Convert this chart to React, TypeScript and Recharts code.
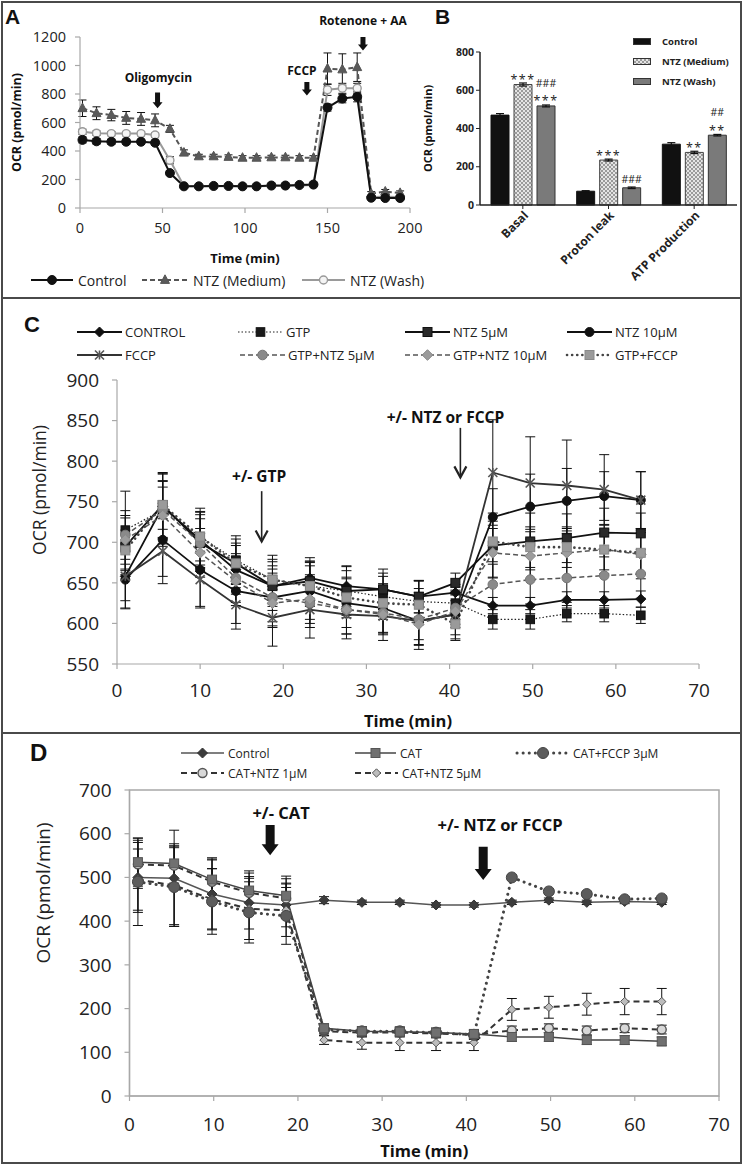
import React from 'react';
import {
  Bar,
  BarChart,
  ErrorBar,
  LabelList,
  Line,
  LineChart,
  ReferenceArea,
  ReferenceDot,
  ReferenceLine,
  XAxis,
  YAxis,
} from 'recharts';

// ---------- A: OCR time course ----------
const timeA = [1.5, 10, 19, 28, 37, 45.5, 54.5, 63, 72, 81, 90, 98.5, 107, 116, 124.5, 133, 141.5, 150, 159, 168, 176.5, 185, 194];
const controlA = [478, 468, 465, 465, 465, 458, 245, 152, 152, 155, 155, 152, 152, 158, 158, 162, 165, 705, 768, 780, 72, 70, 70];
const controlAErr = [22, 20, 18, 18, 18, 18, 15, 10, 10, 10, 10, 10, 10, 10, 10, 10, 10, 25, 30, 35, 12, 10, 10];
const mediumA = [700, 665, 652, 632, 625, 615, 555, 388, 362, 362, 358, 352, 352, 355, 355, 352, 352, 978, 972, 988, 100, 115, 105];
const mediumAErr = [58, 45, 40, 45, 45, 45, 25, 20, 15, 15, 15, 15, 15, 15, 15, 15, 15, 110, 110, 100, 15, 15, 15];
const washA = [535, 525, 522, 522, 522, 512, 335, 155, 152, 152, 152, 152, 152, 155, 155, 158, 162, 830, 840, 840, 75, 80, 75];
const washAErr = [18, 15, 15, 15, 15, 15, 25, 10, 10, 10, 10, 10, 10, 10, 10, 10, 10, 40, 35, 35, 10, 10, 10];

// injections: arrow from/to (OCR units), text position
const eventsA = [
  { text: 'Oligomycin', t: 47, from: 810, to: 700, textT: 47.5, textY: 919 },
  { text: 'FCCP', t: 137.5, from: 885, to: 790, textT: 134.5, textY: 968 },
  { text: 'Rotenone + AA', t: 171.5, from: 1200, to: 1105, textT: 171.5, textY: 1319 },
];

// ---------- B: respiration parameters ----------
const categoriesB = ['Basal', 'Proton leak', 'ATP Production'];
const controlB = [470, 72, 318];
const controlBErr = [8, 3, 8];
const mediumB = [630, 235, 275];
const mediumBErr = [8, 5, 6];
const washB = [518, 90, 365];
const washBErr = [5, 4, 4];
const mediumSig = ['***', '***', '**'];
const washSig = ['###|***', '###', '##|**'];

// ---------- C: GTP / NTZ / FCCP ----------
const timeC = [1, 5.5, 10, 14.3, 18.7, 23.2, 27.6, 32, 36.3, 40.7, 45.2, 49.7, 54.1, 58.6, 63];
const controlC = [658, 744, 703, 666, 646, 656, 646, 642, 633, 638, 622, 622, 629, 629, 630];
const controlCErr = [30, 40, 35, 30, 25, 25, 25, 20, 20, 10, 10, 10, 10, 10, 10];
const gtpC = [715, 740, 707, 678, 654, 646, 640, 633, 627, 625, 605, 605, 612, 612, 610];
const gtpCErr = [48, 45, 35, 30, 30, 30, 30, 25, 25, 20, 12, 12, 10, 10, 10];
const ntz5C = [695, 746, 699, 674, 646, 652, 640, 642, 633, 650, 696, 701, 705, 712, 711];
const ntz5CErr = [35, 40, 35, 30, 30, 25, 25, 25, 20, 12, 40, 35, 30, 30, 25];
const ntz10C = [654, 703, 666, 640, 632, 640, 625, 619, 603, 611, 731, 744, 751, 757, 752];
const ntz10CErr = [35, 45, 45, 40, 35, 35, 30, 30, 30, 25, 35, 40, 40, 30, 35];
const fccpC = [658, 689, 654, 623, 607, 617, 611, 609, 603, 611, 786, 773, 770, 765, 752];
const fccpCErr = [40, 40, 35, 30, 35, 35, 30, 30, 35, 30, 65, 57, 56, 43, 35];
const gtpNtz5C = [709, 740, 699, 656, 632, 625, 617, 613, 605, 619, 648, 654, 656, 659, 661];
const gtpNtz5CErr = [30, 35, 30, 30, 30, 30, 30, 25, 25, 20, 25, 30, 30, 30, 30];
const gtpNtz10C = [703, 733, 687, 652, 625, 630, 617, 611, 599, 615, 687, 683, 687, 691, 685];
const gtpNtz10CErr = [30, 35, 30, 30, 30, 30, 30, 25, 25, 20, 30, 30, 30, 30, 30];
const gtpFccpC = [690, 746, 707, 674, 654, 646, 632, 625, 623, 599, 701, 694, 694, 691, 687];
const gtpFccpCErr = [25, 30, 30, 25, 25, 25, 25, 20, 20, 20, 25, 25, 25, 25, 25];

// ---------- D: CAT ----------
const timeD = [1, 5.3, 9.8, 14.2, 18.6, 23.1, 27.6, 32.1, 36.4, 40.9, 45.4, 49.8, 54.3, 58.8, 63.2];
const controlD = [500, 498, 462, 442, 437, 448, 443, 443, 437, 437, 443, 448, 443, 445, 443];
const controlDErr = [80, 110, 80, 60, 50, 8, 5, 5, 5, 5, 5, 5, 5, 5, 5];
const catD = [535, 532, 495, 470, 458, 155, 148, 147, 145, 142, 135, 135, 128, 128, 125];
const catDErr = [55, 45, 50, 45, 45, 10, 10, 10, 10, 10, 10, 10, 10, 10, 10];
const catFccpD = [490, 478, 445, 420, 412, 152, 148, 148, 145, 140, 500, 468, 462, 450, 452];
const catFccpDErr = [100, 90, 75, 70, 65, 10, 10, 10, 10, 10, 5, 5, 5, 5, 5];
const catNtz1D = [530, 527, 490, 465, 452, 148, 145, 145, 143, 140, 150, 155, 150, 155, 152];
const catNtz1DErr = [55, 45, 50, 45, 45, 10, 10, 10, 10, 10, 10, 10, 10, 10, 10];
const catNtz5D = [495, 482, 450, 428, 425, 128, 122, 122, 122, 122, 198, 203, 210, 216, 216];
const catNtz5DErr = [70, 90, 70, 70, 60, 10, 15, 18, 18, 18, 25, 25, 25, 30, 30];

type Shape = 'circle' | 'ring' | 'triangle' | 'diamond' | 'square' | 'star';
interface Sty {
  stroke: string;
  sw: number;
  dash?: string;
  cap?: 'round' | 'butt';
  shape: Shape;
  fill: string;
  edge: string;
  size: number;
}

const Marker = ({ cx, cy, s }: { cx: number; cy: number; s: Sty }) => {
  if (cx == null || cy == null || isNaN(cx) || isNaN(cy)) return null;
  const r = s.size;
  switch (s.shape) {
    case 'circle':
      return <circle cx={cx} cy={cy} r={r} fill={s.fill} stroke={s.edge} strokeWidth={1} />;
    case 'ring':
      return <circle cx={cx} cy={cy} r={r} fill={s.fill} stroke={s.edge} strokeWidth={1.4} />;
    case 'triangle':
      return (
        <polygon
          points={`${cx},${cy - r * 1.15} ${cx + r},${cy + r * 0.75} ${cx - r},${cy + r * 0.75}`}
          fill={s.fill}
          stroke={s.edge}
        />
      );
    case 'diamond':
      return (
        <polygon
          points={`${cx},${cy - r} ${cx + r},${cy} ${cx},${cy + r} ${cx - r},${cy}`}
          fill={s.fill}
          stroke={s.edge}
        />
      );
    case 'square':
      return <rect x={cx - r} y={cy - r} width={2 * r} height={2 * r} fill={s.fill} stroke={s.edge} />;
    case 'star':
      return (
        <g stroke={s.edge} strokeWidth={1.6}>
          <line x1={cx - r} y1={cy - r} x2={cx + r} y2={cy + r} />
          <line x1={cx - r} y1={cy + r} x2={cx + r} y2={cy - r} />
          <line x1={cx} y1={cy - r} x2={cx} y2={cy + r} />
        </g>
      );
  }
  return null;
};

// styles
const stA: Record<string, Sty> = {
  ctrl: { stroke: '#111', sw: 2, shape: 'circle', fill: '#111', edge: '#111', size: 4.5 },
  med: { stroke: '#555', sw: 2, dash: '5 3', shape: 'triangle', fill: '#5a5a5a', edge: '#555', size: 4.5 },
  wash: { stroke: '#9a9a9a', sw: 2, shape: 'ring', fill: '#f4f4f4', edge: '#999', size: 4 },
};

const stC: Record<string, Sty> = {
  control: { stroke: '#111', sw: 1.8, shape: 'diamond', fill: '#111', edge: '#111', size: 5 },
  gtp: { stroke: '#222', sw: 1.2, dash: '1.5 2', shape: 'square', fill: '#1a1a1a', edge: '#111', size: 4.3 },
  ntz5: { stroke: '#111', sw: 1.8, shape: 'square', fill: '#2a2a2a', edge: '#111', size: 4.5 },
  ntz10: { stroke: '#111', sw: 1.8, shape: 'circle', fill: '#111', edge: '#111', size: 4.5 },
  fccp: { stroke: '#333', sw: 1.8, shape: 'star', fill: '#555', edge: '#555', size: 4.5 },
  gtpNtz5: { stroke: '#555', sw: 1.5, dash: '5 3', shape: 'circle', fill: '#8a8a8a', edge: '#777', size: 4.8 },
  gtpNtz10: { stroke: '#555', sw: 1.5, dash: '5 3', shape: 'diamond', fill: '#9c9c9c', edge: '#888', size: 5.3 },
  gtpFccp: { stroke: '#444', sw: 2.6, dash: '0.1 5', cap: 'round', shape: 'square', fill: '#9a9a9a', edge: '#888', size: 4.5 },
};

const stD: Record<string, Sty> = {
  control: { stroke: '#555', sw: 1.5, shape: 'diamond', fill: '#3c3c3c', edge: '#333', size: 5 },
  cat: { stroke: '#444', sw: 1.5, shape: 'square', fill: '#707070', edge: '#555', size: 4.5 },
  catFccp: { stroke: '#444', sw: 3, dash: '0.1 6', cap: 'round', shape: 'circle', fill: '#5c5c5c', edge: '#444', size: 5.5 },
  catNtz1: { stroke: '#333', sw: 2, dash: '6 4', shape: 'ring', fill: '#d8d8d8', edge: '#555', size: 4.5 },
  catNtz5: { stroke: '#333', sw: 2, dash: '6 4', shape: 'diamond', fill: '#bdbdbd', edge: '#555', size: 4.2 },
};

const seriesA = [
  { key: 'ctrl', name: 'Control', values: controlA, errs: controlAErr },
  { key: 'med', name: 'NTZ (Medium)', values: mediumA, errs: mediumAErr },
  { key: 'wash', name: 'NTZ (Wash)', values: washA, errs: washAErr },
];

const seriesC = [
  { key: 'control', name: 'CONTROL', values: controlC, errs: controlCErr },
  { key: 'gtp', name: 'GTP', values: gtpC, errs: gtpCErr },
  { key: 'ntz5', name: 'NTZ 5µM', values: ntz5C, errs: ntz5CErr },
  { key: 'ntz10', name: 'NTZ 10µM', values: ntz10C, errs: ntz10CErr },
  { key: 'fccp', name: 'FCCP', values: fccpC, errs: fccpCErr },
  { key: 'gtpNtz5', name: 'GTP+NTZ 5µM', values: gtpNtz5C, errs: gtpNtz5CErr },
  { key: 'gtpNtz10', name: 'GTP+NTZ 10µM', values: gtpNtz10C, errs: gtpNtz10CErr },
  { key: 'gtpFccp', name: 'GTP+FCCP', values: gtpFccpC, errs: gtpFccpCErr },
];

const seriesD = [
  { key: 'control', name: 'Control', values: controlD, errs: controlDErr },
  { key: 'cat', name: 'CAT', values: catD, errs: catDErr },
  { key: 'catFccp', name: 'CAT+FCCP 3µM', values: catFccpD, errs: catFccpDErr },
  { key: 'catNtz1', name: 'CAT+NTZ 1µM', values: catNtz1D, errs: catNtz1DErr },
  { key: 'catNtz5', name: 'CAT+NTZ 5µM', values: catNtz5D, errs: catNtz5DErr },
];

type Series = { key: string; name: string; values: number[]; errs: number[] };

const buildRows = (times: number[], series: Series[]) =>
  times.map((t, i) => {
    const row: Record<string, number> = { t };
    series.forEach((s) => {
      row[s.key] = s.values[i];
      row[s.key + 'Err'] = s.errs[i];
    });
    return row;
  });

const rowsA = buildRows(timeA, seriesA);
const rowsC = buildRows(timeC, seriesC);
const rowsD = buildRows(timeD, seriesD);

const rowsB = categoriesB.map((cat, i) => ({
  cat,
  ctrl: controlB[i],
  ctrlErr: controlBErr[i],
  med: mediumB[i],
  medErr: mediumBErr[i],
  wash: washB[i],
  washErr: washBErr[i],
  medSig: mediumSig[i],
  washSig: washSig[i],
}));

// block arrow pointing down, drawn from a ReferenceLine segment
const blockArrow = (shaft: number, head: number, headLen: number) => (p: any) => {
  const x = p.x1;
  const top = Math.min(p.y1, p.y2);
  const tip = Math.max(p.y1, p.y2);
  const hb = tip - headLen;
  const pts = [
    [x - shaft / 2, top],
    [x + shaft / 2, top],
    [x + shaft / 2, hb],
    [x + head / 2, hb],
    [x, tip],
    [x - head / 2, hb],
    [x - shaft / 2, hb],
  ]
    .map((q) => q.join(','))
    .join(' ');
  return <polygon points={pts} fill="#111" />;
};

const lineArrow = (p: any) => {
  const x = p.x1;
  const top = Math.min(p.y1, p.y2);
  const tip = Math.max(p.y1, p.y2);
  return (
    <g stroke="#222" strokeWidth={1.6} fill="none">
      <line x1={x} y1={top} x2={x} y2={tip} />
      <polyline points={`${x - 6},${tip - 11} ${x},${tip} ${x + 6},${tip - 11}`} strokeWidth={2.2} />
    </g>
  );
};

const textShape = (text: string, size: number) => (p: any) => (
  <text
    x={p.cx}
    y={p.cy}
    textAnchor="middle"
    dominantBaseline="central"
    fontSize={size}
    fontWeight={700}
    fill="#111">
    {text}
  </text>
);

const renderSeries = (series: Series[], styles: Record<string, Sty>, cap: number, order: string[]) =>
  order.map((k) => {
    const s = series.find((q) => q.key === k)!;
    const st = styles[k];
    return (
      <Line
        key={k}
        type="linear"
        dataKey={k}
        name={s.name}
        stroke={st.stroke}
        strokeWidth={st.sw}
        strokeDasharray={st.dash}
        strokeLinecap={st.cap}
        dot={(p: any) => <Marker key={`${k}-${p.index}`} cx={p.cx} cy={p.cy} s={st} />}
        activeDot={false}
        isAnimationActive={false}>
        <ErrorBar
          dataKey={k + 'Err'}
          width={cap}
          stroke="#111"
          strokeWidth={1}
          direction="y"
          isAnimationActive={false}
        />
      </Line>
    );
  });

const KeyItem = ({
  left,
  top,
  s,
  w,
  label,
  fs,
  gap,
}: {
  left: number;
  top: number;
  s: Sty;
  w: number;
  label: string;
  fs: number;
  gap: number;
}) => (
  <div
    style={{
      position: 'absolute',
      left,
      top: top - 9,
      height: 18,
      display: 'flex',
      alignItems: 'center',
      whiteSpace: 'nowrap',
      fontSize: fs,
      color: '#222',
    }}>
    <svg width={w} height={18} style={{ overflow: 'visible' }}>
      <line
        x1={0}
        y1={9}
        x2={w}
        y2={9}
        stroke={s.stroke}
        strokeWidth={s.sw}
        strokeDasharray={s.dash}
        strokeLinecap={s.cap}
      />
      <Marker cx={w / 2} cy={9} s={s} />
    </svg>
    <span style={{ marginLeft: gap }}>{label}</span>
  </div>
);

// significance marks stacked above a bar ("###|***" -> ### over ***)
const sigLabel = (p: any) => {
  const lines = String(p.value || '')
    .split('|')
    .filter(Boolean);
  const cx = p.x + p.width / 2;
  return (
    <g>
      {lines.map((ln, i) => {
        const cy = p.y - 9 - (lines.length - 1 - i) * 14;
        const star = ln.includes('*');
        return (
          <text
            key={i}
            x={cx}
            y={star ? cy + 4 : cy}
            textAnchor="middle"
            dominantBaseline="central"
            fontSize={star ? 12.5 : 10.5}
            letterSpacing={star ? 1.5 : 0}
            fill="#222">
            {ln}
          </text>
        );
      })}
    </g>
  );
};

const rotTick = (p: any) => (
  <text
    x={p.x + 3}
    y={p.y + 2}
    textAnchor="end"
    dominantBaseline="central"
    transform={`rotate(-45 ${p.x + 3} ${p.y + 2})`}
    fontSize={12}
    fontWeight={700}
    fill="#222">
    {p.payload.value}
  </text>
);

const panelLetter = (ch: string, left: number, top: number, size: number) => (
  <div
    style={{
      position: 'absolute',
      left,
      top,
      fontSize: size,
      fontWeight: 700,
      lineHeight: 1,
      fontFamily: "'Liberation Sans', Arial, sans-serif",
      color: '#111',
    }}>
    {ch}
  </div>
);

const legendA = [
  { key: 'ctrl', left: 31, top: 280, w: 42 },
  { key: 'med', left: 142, top: 280, w: 46 },
  { key: 'wash', left: 302, top: 280, w: 43 },
];
const legendC = [
  { key: 'control', left: 77, top: 332 },
  { key: 'gtp', left: 238, top: 332 },
  { key: 'ntz5', left: 405, top: 332 },
  { key: 'ntz10', left: 567, top: 332 },
  { key: 'fccp', left: 77, top: 355 },
  { key: 'gtpNtz5', left: 240, top: 355 },
  { key: 'gtpNtz10', left: 405, top: 355 },
  { key: 'gtpFccp', left: 567, top: 355 },
];
const legendD = [
  { key: 'control', left: 181, top: 753, w: 43 },
  { key: 'cat', left: 355, top: 753, w: 41 },
  { key: 'catFccp', left: 517, top: 753, w: 52 },
  { key: 'catNtz1', left: 181, top: 773, w: 43 },
  { key: 'catNtz5', left: 355, top: 773, w: 43 },
];

const axisGray = { stroke: '#a8a8a8', strokeWidth: 1.2 };

export default function App() {
  return (
    <div
      style={{
        position: 'relative',
        width: 745,
        height: 1168,
        background: '#fff',
        fontFamily: "'Open Sans', sans-serif",
        overflow: 'hidden',
      }}>
      <style>{'body{margin:0}'}</style>

      {/* frame */}
      <div
        style={{
          position: 'absolute',
          left: 1,
          top: 1,
          width: 741,
          height: 1163,
          border: '2px solid #4a4a4a',
          boxSizing: 'border-box',
        }}
      />
      <div style={{ position: 'absolute', left: 1, top: 297, width: 741, height: 2, background: '#4a4a4a' }} />
      <div style={{ position: 'absolute', left: 1, top: 732, width: 741, height: 2, background: '#4a4a4a' }} />

      {/* ---------- A ---------- */}
      <div style={{ position: 'absolute', left: 0, top: 0 }}>
        <LineChart width={430} height={297} data={rowsA} margin={{ top: 37, right: 20, left: 0, bottom: 32 }}>
          <XAxis
            dataKey="t"
            type="number"
            domain={[0, 200]}
            ticks={[0, 50, 100, 150, 200]}
            height={57}
            tickSize={5}
            tickMargin={10}
            axisLine={axisGray}
            tickLine={axisGray}
            tick={{ fontSize: 14.5, fill: '#222' }}
            label={{ value: 'Time (min)', position: 'insideBottom', offset: 2, style: { fontSize: 13, fontWeight: 700, fill: '#111' } }}
          />
          <YAxis
            type="number"
            domain={[0, 1200]}
            ticks={[0, 200, 400, 600, 800, 1000, 1200]}
            width={80}
            interval={0}
            tickSize={5}
            tickMargin={9}
            axisLine={axisGray}
            tickLine={axisGray}
            tick={{ fontSize: 14.5, fill: '#222' }}
            label={{
              value: 'OCR (pmol/min)',
              angle: -90,
              position: 'insideLeft',
              offset: 17,
              style: { textAnchor: 'middle', fontSize: 12.5, fontWeight: 700, fill: '#111' },
            }}
          />
          {renderSeries(seriesA, stA, 4, ['wash', 'med', 'ctrl'])}
          {eventsA.map((e) => (
            <ReferenceLine
              key={e.text + 'a'}
              segment={[
                { x: e.t, y: e.from },
                { x: e.t, y: e.to },
              ]}
              ifOverflow="visible"
              shape={blockArrow(5, 10, 6)}
            />
          ))}
          {eventsA.map((e) => (
            <ReferenceDot
              key={e.text}
              x={e.textT}
              y={e.textY}
              r={0}
              ifOverflow="visible"
              shape={textShape(e.text, 12)}
            />
          ))}
        </LineChart>
      </div>
      {legendA.map((l) => {
        const s = seriesA.find((q) => q.key === l.key)!;
        return <KeyItem key={l.key} left={l.left} top={l.top} s={stA[l.key]} w={l.w} label={s.name} fs={14} gap={5} />;
      })}
      {panelLetter('A', 5, 6, 21)}

      {/* ---------- B ---------- */}
      <div style={{ position: 'absolute', left: 415, top: 0 }}>
        <BarChart
          width={330}
          height={297}
          data={rowsB}
          margin={{ top: 52, right: 8, left: 0, bottom: 0 }}
          barSize={18}
          barGap={5}>
          <defs>
            <pattern id="checker" width="4" height="4" patternUnits="userSpaceOnUse">
              <rect width="4" height="4" fill="#e4e4e4" />
              <rect width="2" height="2" fill="#9a9a9a" />
              <rect x="2" y="2" width="2" height="2" fill="#9a9a9a" />
            </pattern>
          </defs>
          <XAxis
            dataKey="cat"
            height={92}
            interval={0}
            tickSize={4}
            axisLine={{ stroke: '#222', strokeWidth: 1.5 }}
            tickLine={{ stroke: '#222' }}
            tick={rotTick}
          />
          <YAxis
            domain={[0, 800]}
            ticks={[0, 200, 400, 600, 800]}
            width={65}
            interval={0}
            tickSize={4}
            tickMargin={2}
            axisLine={{ stroke: '#222', strokeWidth: 1.5 }}
            tickLine={{ stroke: '#222' }}
            tick={{ fontSize: 10.5, fontWeight: 700, fill: '#222' }}
            label={{
              value: 'OCR (pmol/min)',
              angle: -90,
              position: 'insideLeft',
              offset: 13,
              style: { textAnchor: 'middle', fontSize: 11, fontWeight: 700, fill: '#111' },
            }}
          />
          <Bar dataKey="ctrl" fill="#111" stroke="#111" isAnimationActive={false}>
            <ErrorBar dataKey="ctrlErr" width={4} stroke="#111" strokeWidth={1.2} direction="y" isAnimationActive={false} />
          </Bar>
          <Bar dataKey="med" fill="url(#checker)" stroke="#444" isAnimationActive={false}>
            <ErrorBar dataKey="medErr" width={4} stroke="#111" strokeWidth={1.2} direction="y" isAnimationActive={false} />
            <LabelList dataKey="medSig" content={sigLabel} />
          </Bar>
          <Bar dataKey="wash" fill="#7a7a7a" stroke="#333" isAnimationActive={false}>
            <ErrorBar dataKey="washErr" width={4} stroke="#111" strokeWidth={1.2} direction="y" isAnimationActive={false} />
            <LabelList dataKey="washSig" content={sigLabel} />
          </Bar>
        </BarChart>
      </div>
      {[
        { label: 'Control', top: 41, bg: '#111' },
        { label: 'NTZ (Medium)', top: 61, bg: 'repeating-conic-gradient(#9a9a9a 0 25%, #e4e4e4 0 50%) 0 0 / 4px 4px' },
        { label: 'NTZ (Wash)', top: 81, bg: '#7a7a7a' },
      ].map((l) => (
        <div
          key={l.label}
          style={{
            position: 'absolute',
            left: 633,
            top: l.top - 8,
            height: 16,
            display: 'flex',
            alignItems: 'center',
            fontSize: 9.5,
            fontWeight: 700,
            color: '#222',
            whiteSpace: 'nowrap',
          }}>
          <div style={{ width: 18, height: 7, background: l.bg, border: '1px solid #333', boxSizing: 'border-box' }} />
          <span style={{ marginLeft: 11 }}>{l.label}</span>
        </div>
      ))}
      {panelLetter('B', 435, 6, 21)}

      {/* ---------- C ---------- */}
      <div style={{ position: 'absolute', left: 0, top: 299 }}>
        <LineChart width={745} height={433} data={rowsC} margin={{ top: 81, right: 46, left: 0, bottom: 0 }}>
          <XAxis
            dataKey="t"
            type="number"
            domain={[0, 70]}
            ticks={[0, 10, 20, 30, 40, 50, 60, 70]}
            height={68}
            tickSize={5}
            tickMargin={15}
            axisLine={axisGray}
            tickLine={axisGray}
            tick={{ fontSize: 19, fill: '#222' }}
            label={{ value: 'Time (min)', position: 'insideBottom', offset: 5, style: { fontSize: 16.5, fontWeight: 700, fill: '#111' } }}
          />
          <YAxis
            type="number"
            domain={[550, 900]}
            ticks={[550, 600, 650, 700, 750, 800, 850, 900]}
            width={117}
            interval={0}
            tickSize={5}
            tickMargin={13}
            axisLine={axisGray}
            tickLine={axisGray}
            tick={{ fontSize: 19, fill: '#222' }}
            label={{
              value: 'OCR (pmol/min)',
              angle: -90,
              position: 'insideLeft',
              offset: 40,
              dy: -32,
              style: { textAnchor: 'middle', fontSize: 17.5, fill: '#222' },
            }}
          />
          {renderSeries(seriesC, stC, 5, ['gtp', 'control', 'ntz5', 'ntz10', 'fccp', 'gtpNtz5', 'gtpNtz10', 'gtpFccp'])}
          <ReferenceLine
            segment={[
              { x: 17.4, y: 763 },
              { x: 17.4, y: 701 },
            ]}
            ifOverflow="visible"
            shape={lineArrow}
          />
          <ReferenceDot x={17.1} y={782} r={0} ifOverflow="visible" shape={textShape('+/-  GTP', 15.5)} />
          <ReferenceLine
            segment={[
              { x: 41.3, y: 841 },
              { x: 41.3, y: 780 },
            ]}
            ifOverflow="visible"
            shape={lineArrow}
          />
          <ReferenceDot x={39.5} y={854} r={0} ifOverflow="visible" shape={textShape('+/-  NTZ or FCCP', 15.5)} />
        </LineChart>
      </div>
      {legendC.map((l) => {
        const s = seriesC.find((q) => q.key === l.key)!;
        return <KeyItem key={l.key} left={l.left} top={l.top} s={stC[l.key]} w={45} label={s.name} fs={13} gap={3} />;
      })}
      {panelLetter('C', 24, 314, 22)}

      {/* ---------- D ---------- */}
      <div style={{ position: 'absolute', left: 0, top: 734 }}>
        <LineChart width={745} height={430} data={rowsD} margin={{ top: 56, right: 26, left: 0, bottom: 2 }}>
          <XAxis
            dataKey="t"
            type="number"
            domain={[0, 70]}
            ticks={[0, 10, 20, 30, 40, 50, 60, 70]}
            height={66}
            tickSize={5}
            tickMargin={17}
            axisLine={axisGray}
            tickLine={axisGray}
            tick={{ fontSize: 19, fill: '#222' }}
            label={{ value: 'Time (min)', position: 'insideBottom', offset: 5, style: { fontSize: 16.5, fontWeight: 700, fill: '#111' } }}
          />
          <YAxis
            type="number"
            domain={[0, 700]}
            ticks={[0, 100, 200, 300, 400, 500, 600, 700]}
            width={129.5}
            interval={0}
            tickSize={5}
            tickMargin={13}
            axisLine={axisGray}
            tickLine={axisGray}
            tick={{ fontSize: 19, fill: '#222' }}
            label={{
              value: 'OCR (pmol/min)',
              angle: -90,
              position: 'insideLeft',
              offset: 43,
              dy: -50,
              style: { textAnchor: 'middle', fontSize: 19, fill: '#222' },
            }}
          />
          <ReferenceArea x1={0} x2={70} y1={0} y2={700} fill="none" stroke="#a8a8a8" strokeWidth={1.5} ifOverflow="visible" />
          {renderSeries(seriesD, stD, 5, ['control', 'catNtz5', 'catNtz1', 'catFccp', 'cat'])}
          <ReferenceLine
            segment={[
              { x: 16.7, y: 620 },
              { x: 16.7, y: 551 },
            ]}
            ifOverflow="visible"
            shape={blockArrow(9, 17, 11)}
          />
          <ReferenceDot x={18} y={648} r={0} ifOverflow="visible" shape={textShape('+/- CAT', 16.5)} />
          <ReferenceLine
            segment={[
              { x: 42, y: 570 },
              { x: 42, y: 494 },
            ]}
            ifOverflow="visible"
            shape={blockArrow(9, 17, 11)}
          />
          <ReferenceDot x={44} y={620} r={0} ifOverflow="visible" shape={textShape('+/- NTZ or FCCP', 16.5)} />
        </LineChart>
      </div>
      {legendD.map((l) => {
        const s = seriesD.find((q) => q.key === l.key)!;
        return <KeyItem key={l.key} left={l.left} top={l.top} s={stD[l.key]} w={l.w} label={s.name} fs={12} gap={4} />;
      })}
      {panelLetter('D', 30, 741, 24)}
    </div>
  );
}
